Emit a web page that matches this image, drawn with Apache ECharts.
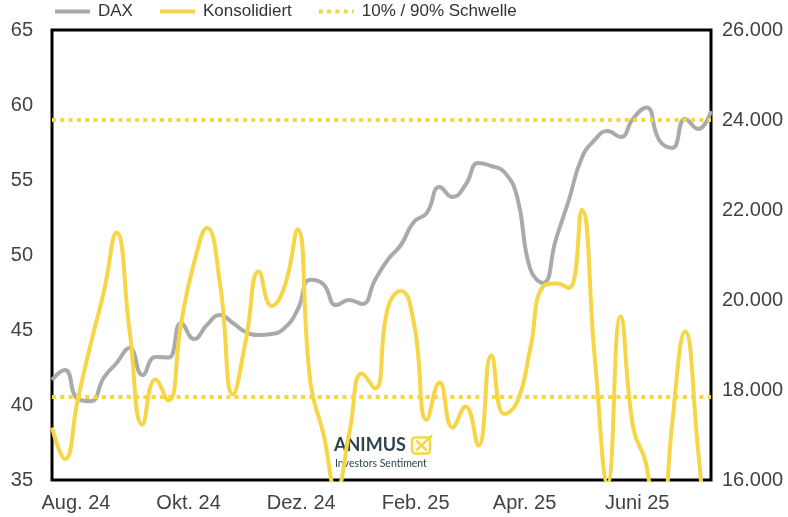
<!DOCTYPE html>
<html>
<head>
<meta charset="utf-8">
<script src="https://cdn.jsdelivr.net/npm/echarts@6/dist/echarts.min.js"></script>
<style>
  html, body { margin: 0; padding: 0; background: #fff; }
  #main { width: 788px; height: 517px; }
</style>
</head>
<body>
<div id="main"></div>
<script>
  // weekly closes (fridays)
  var dates = [
    '2024-07-19', '2024-07-26', '2024-08-02', '2024-08-09', '2024-08-16', '2024-08-23', '2024-08-30',
    '2024-09-06', '2024-09-13', '2024-09-20', '2024-09-27', '2024-10-04', '2024-10-11', '2024-10-18',
    '2024-10-25', '2024-11-01', '2024-11-08', '2024-11-15', '2024-11-22', '2024-11-29', '2024-12-06',
    '2024-12-13', '2024-12-20', '2024-12-27', '2025-01-03', '2025-01-10', '2025-01-17', '2025-01-24',
    '2025-01-31', '2025-02-07', '2025-02-14', '2025-02-21', '2025-02-28', '2025-03-07', '2025-03-14',
    '2025-03-21', '2025-03-28', '2025-04-04', '2025-04-11', '2025-04-18', '2025-04-25', '2025-05-02',
    '2025-05-09', '2025-05-16', '2025-05-23', '2025-05-30', '2025-06-06', '2025-06-13', '2025-06-20',
    '2025-06-27', '2025-07-04', '2025-07-11'
  ];

  var dax = [
    18222, 18444, 17800, 17750, 18267, 18600, 18933,
    18333, 18733, 18720, 19489, 19133, 19450, 19667,
    19489, 19289, 19222, 19244, 19378, 19778, 20450,
    20350, 19889, 20000, 19911, 20444, 20900, 21222,
    21733, 21930, 22511, 22289, 22556, 23044, 22978,
    22844, 22289, 20700, 20380, 21350, 22222, 23156,
    23556, 23756, 23622, 24044, 24280, 23550, 23380,
    24022, 23800, 24200
  ];

  var konsolidiert = [
    38.5, 36.4, 40.4, 44.1, 47.5, 51.5, 45.0,
    38.7, 41.7, 40.3, 45.5, 49.5, 51.8, 48.1,
    40.7, 44.3, 48.9, 46.6, 47.9, 51.7, 41.5,
    38.1, 34.3, 38.1, 42.1, 41.1, 46.5, 47.6,
    45.5, 39.0, 41.5, 38.5, 39.9, 37.3, 43.3,
    39.4, 40.2, 43.7, 47.9, 48.1, 47.8, 53.0,
    43.2, 34.8, 45.9, 38.4, 36.0, 29.0, 38.8,
    44.9, 37.0, 28.0
  ];

  var schwellen = [59, 40.55];

  var tickDates = ['2024-08-01', '2024-10-01', '2024-12-01', '2025-02-01', '2025-04-01', '2025-06-01'];
  var tickLabels = ['Aug. 24', 'Okt. 24', 'Dez. 24', 'Feb. 25', 'Apr. 25', 'Juni 25'];

  var GELB = '#f6d646';
  var GRAU = '#aaaaaa';
  var TEXT = '#424242';
  var FONT = '"Liberation Sans", Arial, sans-serif';

  function ts(s) {
    var p = s.split('-');
    return Date.UTC(+p[0], +p[1] - 1, +p[2]);
  }

  var tickValues = tickDates.map(ts);
  var labelByTime = {};
  tickValues.forEach(function (t, i) { labelByTime[t] = tickLabels[i]; });

  function tausender(v) {
    return String(v).replace(/\B(?=(\d{3})+(?!\d))/g, '.');
  }

  var myChart = echarts.init(document.getElementById('main'));

  var option = {
    animation: false,
    textStyle: { fontFamily: FONT },
    legend: {
      left: 53,
      top: 3,
      padding: 0,
      itemWidth: 35,
      itemHeight: 14,
      itemGap: 25,
      textStyle: { fontSize: 17, color: '#333', fontFamily: FONT, padding: [0, 0, 0, 3] },
      lineStyle: { width: 4 },
      itemStyle: { opacity: 0 },
      data: ['DAX', 'Konsolidiert', '10% / 90% Schwelle']
    },
    grid: {
      left: 52,
      right: 77,
      top: 30,
      bottom: 37,
      show: true,
      borderColor: '#000',
      borderWidth: 3,
      backgroundColor: 'transparent'
    },
    xAxis: {
      type: 'value',
      min: ts(dates[0]),
      max: ts(dates[dates.length - 1]),
      axisLine: { show: false },
      axisTick: { show: false },
      splitLine: { show: false },
      axisLabel: {
        customValues: tickValues,
        fontSize: 20,
        color: TEXT,
        margin: 13,
        showMinLabel: true,
        showMaxLabel: true,
        formatter: function (v) { return labelByTime[v] || ''; }
      }
    },
    yAxis: [
      {
        type: 'value',
        min: 35,
        max: 65,
        interval: 5,
        axisLine: { show: false },
        axisTick: { show: false },
        splitLine: { show: false },
        axisLabel: { fontSize: 20, color: TEXT, margin: 19 }
      },
      {
        type: 'value',
        min: 16000,
        max: 26000,
        interval: 2000,
        position: 'right',
        axisLine: { show: false },
        axisTick: { show: false },
        splitLine: { show: false },
        axisLabel: { fontSize: 20, color: TEXT, margin: 11, formatter: tausender }
      }
    ],
    series: [
      {
        name: 'DAX',
        type: 'line',
        yAxisIndex: 1,
        smooth: true,
        symbol: 'none',
        lineStyle: { color: GRAU, width: 4 },
        itemStyle: { color: GRAU },
        data: dates.map(function (d, i) { return [ts(d), dax[i]]; }),
        z: 3
      },
      {
        name: 'Konsolidiert',
        type: 'line',
        yAxisIndex: 0,
        smooth: true,
        symbol: 'none',
        lineStyle: { color: GELB, width: 4 },
        itemStyle: { color: GELB },
        data: dates.map(function (d, i) { return [ts(d), konsolidiert[i]]; }),
        z: 4
      },
      {
        name: '10% / 90% Schwelle',
        type: 'line',
        yAxisIndex: 0,
        symbol: 'none',
        lineStyle: { color: GELB, width: 4, type: [4, 4.3] },
        itemStyle: { color: GELB },
        data: [],
        markLine: {
          silent: true,
          symbol: 'none',
          label: { show: false },
          lineStyle: { color: GELB, width: 4, type: [4, 4.3] },
          data: schwellen.map(function (v) { return { yAxis: v }; })
        },
        z: 2
      }
    ],
    graphic: [
      {
        type: 'group',
        left: 334,
        top: 433,
        z: 1,
        children: [
          {
            type: 'text',
            x: 0,
            y: 2,
            style: { text: 'ANIMUS', font: 'bold 18px Lato, "Open Sans", sans-serif', fill: '#2e434d' }
          },
          {
            type: 'rect',
            shape: { x: 78, y: 3, width: 18, height: 16, r: 3 },
            style: { fill: 'none', stroke: GELB, lineWidth: 2.5 }
          },
          {
            type: 'polyline',
            shape: { points: [[82, 6], [93, 16]] },
            style: { stroke: GELB, lineWidth: 2.5, fill: 'none' }
          },
          {
            type: 'polyline',
            shape: { points: [[82, 16], [98, 1]] },
            style: { stroke: GELB, lineWidth: 2.5, fill: 'none' }
          },
          {
            type: 'text',
            x: 1,
            y: 24,
            style: { text: 'Investors Sentiment', font: '10.5px Lato, "Open Sans", sans-serif', fill: '#2e434d' }
          }
        ]
      }
    ]
  };

  myChart.setOption(option);
</script>
</body>
</html>
